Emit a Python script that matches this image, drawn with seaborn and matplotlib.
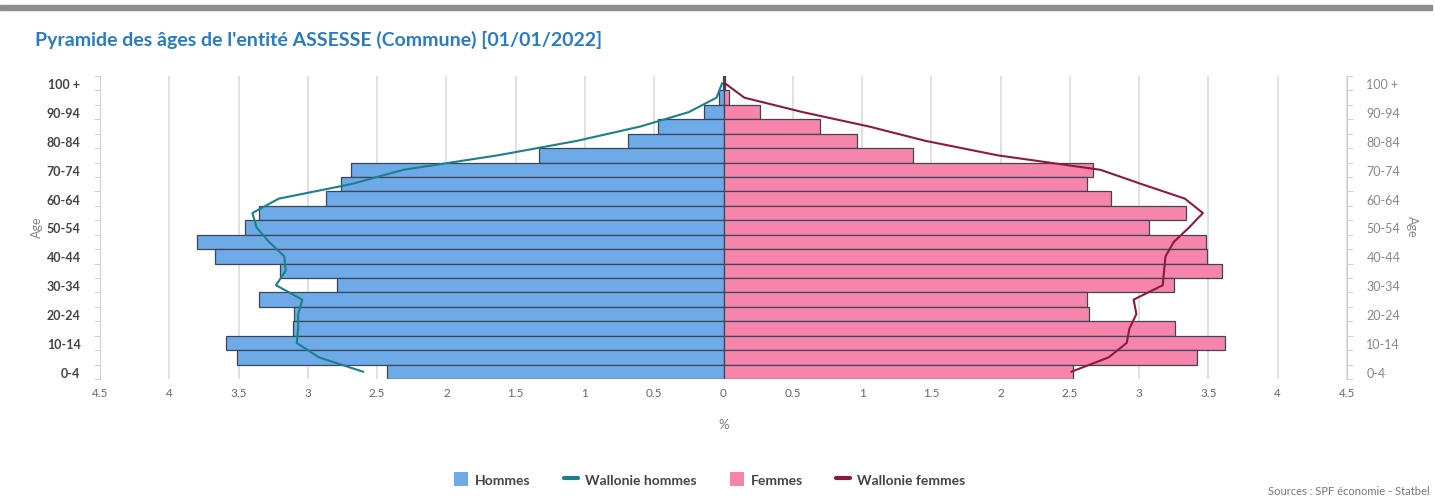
import numpy as np
import pandas as pd
import seaborn as sns
import matplotlib.pyplot as plt
from matplotlib.patches import Patch, Rectangle
from matplotlib.lines import Line2D

# age groups, bottom (0-4) to top (100 +)
ages = ['0-4', '5-9', '10-14', '15-19', '20-24', '25-29', '30-34', '35-39', '40-44', '45-49',
        '50-54', '55-59', '60-64', '65-69', '70-74', '75-79', '80-84', '85-89', '90-94', '95-99', '100 +']
hommes = [2.43, 3.51, 3.59, 3.11, 3.10, 3.35, 2.79, 3.20, 3.67, 3.80,
          3.45, 3.35, 2.87, 2.76, 2.69, 1.33, 0.69, 0.47, 0.14, 0.03, 0.005]
femmes = [2.52, 3.42, 3.62, 3.26, 2.64, 2.62, 3.25, 3.60, 3.49, 3.48,
          3.07, 3.34, 2.80, 2.62, 2.67, 1.37, 0.96, 0.70, 0.26, 0.04, 0.01]
wallonie_h = [2.60, 2.92, 3.08, 3.07, 3.07, 3.04, 3.23, 3.16, 3.17, 3.28,
              3.37, 3.40, 3.21, 2.69, 2.31, 1.63, 1.06, 0.60, 0.25, 0.05, 0.01]
wallonie_f = [2.51, 2.78, 2.91, 2.93, 2.98, 2.96, 3.17, 3.18, 3.19, 3.25,
              3.36, 3.46, 3.33, 3.02, 2.72, 1.98, 1.46, 1.05, 0.57, 0.15, 0.01]
x_ticks = [-4.5, -4, -3.5, -3, -2.5, -2, -1.5, -1, -0.5, 0, 0.5, 1, 1.5, 2, 2.5, 3, 3.5, 4, 4.5]

c_h = '#6eaae8'
c_f = '#f784aa'
c_wh = '#1c7f8c'
c_wf = '#8c1a40'
edge = '#3c4656'

df = pd.DataFrame({'age': ages, 'hommes': hommes, 'femmes': femmes,
                   'wal_h': wallonie_h, 'wal_f': wallonie_f})
order = ages[::-1]
df['pos'] = df['age'].map({a: i for i, a in enumerate(order)})
df['hommes_neg'] = -df['hommes']
df['wal_h_neg'] = -df['wal_h']

sns.set_style('white')
plt.rcParams['font.family'] = ['Lato', 'DejaVu Sans']

fig = plt.figure(figsize=(14.35, 5.02), dpi=100)
ax = fig.add_axes([100 / 1435, 1 - 380 / 502, 1247 / 1435, 303 / 502])

sns.barplot(data=df, x='hommes_neg', y='age', order=order, orient='h', color=c_h,
            saturation=1, width=1.0, edgecolor=edge, linewidth=0.9, ax=ax, zorder=2)
sns.barplot(data=df, x='femmes', y='age', order=order, orient='h', color=c_f,
            saturation=1, width=1.0, edgecolor=edge, linewidth=0.9, ax=ax, zorder=2)
sns.lineplot(data=df, x='wal_h_neg', y='pos', orient='y', color=c_wh, lw=1.5, ax=ax, zorder=3)
sns.lineplot(data=df, x='wal_f', y='pos', orient='y', color=c_wf, lw=1.5, ax=ax, zorder=3)

ax.set_xlim(-4.5, 4.5)
ax.set_ylim(20.5, -0.5)
ax.set_xticks(x_ticks)
ax.set_xticklabels([f'{abs(v):g}' for v in x_ticks], fontsize=8.5, color='#666666')
ax.set_yticks(range(0, 21, 2))
ax.set_yticklabels(order[::2], fontsize=9)
ax.set_yticks(np.arange(-0.5, 21, 1), minor=True)
ax.tick_params(axis='y', which='major', length=0, pad=14, labelright=True)
ax.tick_params(axis='y', which='minor', length=4, color='#c8c8c8', left=True, right=True)
ax.tick_params(axis='x', length=0, pad=6)
for t in ax.yaxis.get_major_ticks():
    t.label1.set_color('#444444')
    t.label1.set_fontweight('bold')
    t.label2.set_color('#888888')

ax.grid(axis='x', color='#dedede', lw=1.3, zorder=0)
ax.set_axisbelow(True)
for s in ['top', 'bottom']:
    ax.spines[s].set_visible(False)
for s in ['left', 'right']:
    ax.spines[s].set_color('#d0d0d0')
ax.set_xlabel('%', fontsize=9.5, color='#777777', labelpad=14)
ax.set_ylabel('')

fig.text(37 / 1435, 1 - 227 / 502, 'Age', rotation=90, ha='center', va='center', fontsize=9, color='#888888')
fig.text(1412 / 1435, 1 - 227 / 502, 'Age', rotation=270, ha='center', va='center', fontsize=9, color='#888888')

fig.patches.append(Rectangle((0, 1 - 11 / 502), 1432 / 1435, 5 / 502, transform=fig.transFigure,
                             color='#8c8c8c', zorder=0))
fig.text(35 / 1435, 1 - 40 / 502, "Pyramide des âges de l'entité ASSESSE (Commune) [01/01/2022]",
         ha='left', va='center', fontsize=14, fontweight='bold', color='#2a7bc0')

handles = [Patch(facecolor=c_h, edgecolor='none'), Line2D([], [], color=c_wh, lw=3),
           Patch(facecolor=c_f, edgecolor='none'), Line2D([], [], color=c_wf, lw=3)]
labels = ['Hommes', 'Wallonie hommes', 'Femmes', 'Wallonie femmes']
leg = fig.legend(handles, labels, loc='center', bbox_to_anchor=(710 / 1435, 1 - 480 / 502), ncol=4,
                 frameon=False, handlelength=1.0, handleheight=1.1, handletextpad=0.5, columnspacing=2.4,
                 prop={'size': 10, 'weight': 'bold'})
for txt in leg.get_texts():
    txt.set_color('#444444')

fig.text(1430 / 1435, 1 - 492 / 502, 'Sources : SPF économie - Statbel', ha='right', va='center',
         fontsize=8, color='#777777')

fig.savefig('out.png', dpi=100)
